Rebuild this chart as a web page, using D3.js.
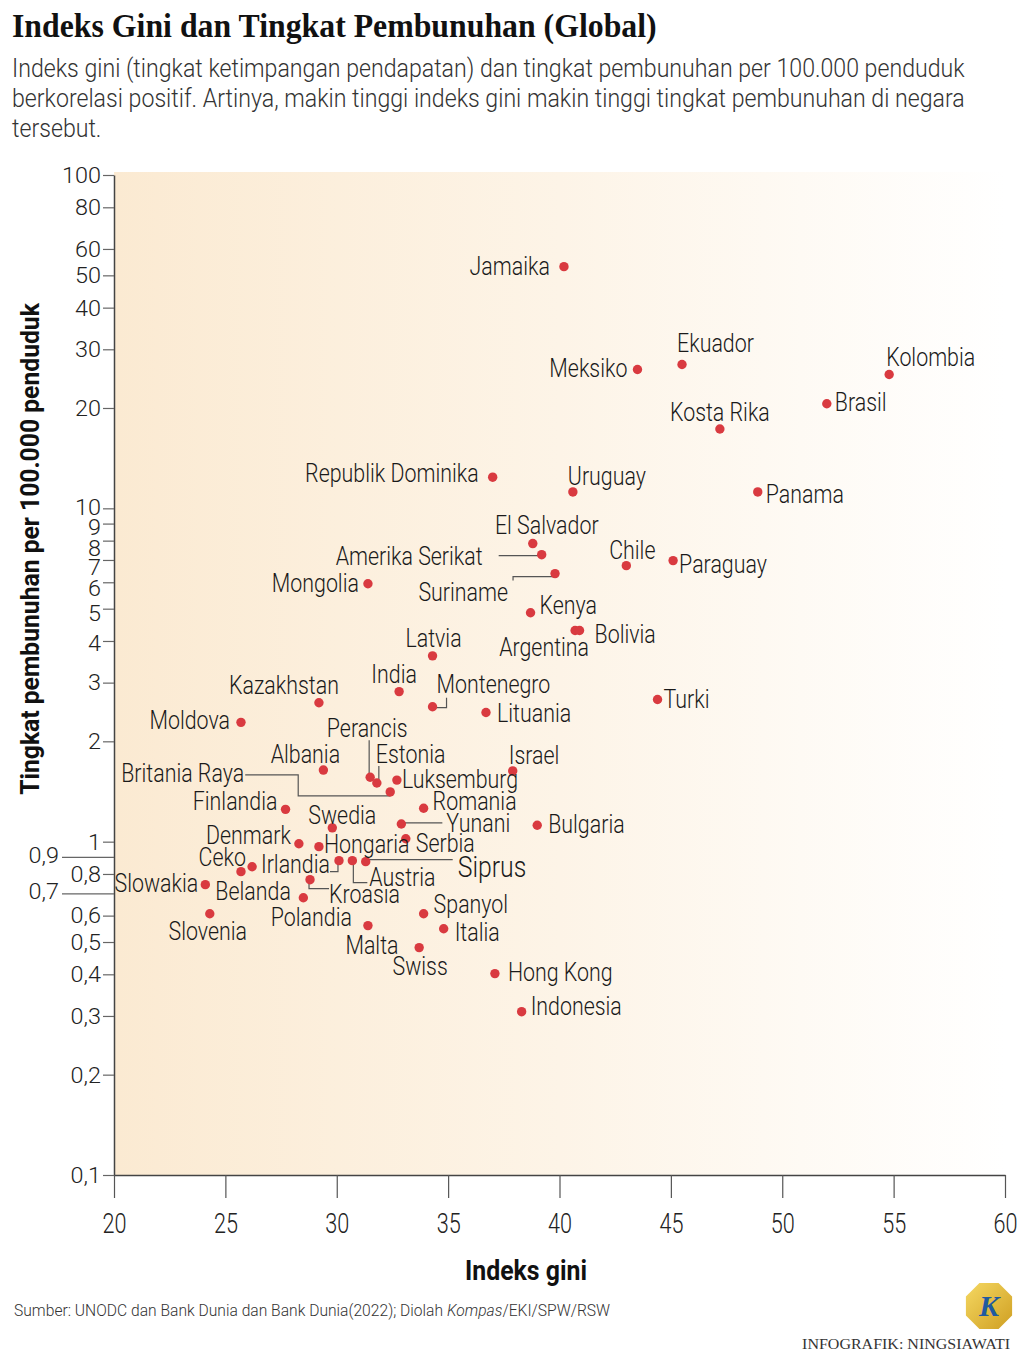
<!DOCTYPE html>
<html><head><meta charset="utf-8">
<script src="https://cdn.jsdelivr.net/npm/d3@7"></script>
<style>body{margin:0;background:#fff;} svg{display:block;}</style>
</head><body><svg id="c" width="1024" height="1356"></svg>
<script>
// ---------------- DATA ----------------
const countries = ["Jamaika","Ekuador","Meksiko","Kolombia","Brasil","Kosta Rika","Republik Dominika","Uruguay","Panama","El Salvador","Amerika Serikat","Suriname","Chile","Paraguay","Mongolia","Kenya","Argentina","Bolivia","Latvia","Turki","India","Kazakhstan","Montenegro","Lituania","Moldova","Albania","Perancis","Estonia","Luksemburg","Israel","Britania Raya","Finlandia","Romania","Swedia","Yunani","Bulgaria","Serbia","Denmark","Hongaria","Irlandia","Austria","Siprus","Ceko","Belanda","Slowakia","Kroasia","Polandia","Slovenia","Spanyol","Malta","Italia","Swiss","Hong Kong","Indonesia"];
const gini = [40.2,45.5,43.5,54.8,52.0,47.2,37.0,40.6,48.9,38.8,39.2,39.8,43.0,45.1,31.4,38.7,40.7,40.9,34.3,44.4,32.8,29.2,34.3,36.7,25.7,29.4,31.5,31.8,32.7,37.9,32.4,27.7,33.9,29.8,32.9,39.0,33.1,28.3,29.2,30.1,30.7,31.3,25.7,26.2,24.1,28.8,28.5,24.3,33.9,31.4,34.8,33.7,37.1,38.3];
const homicide = [53.1,27.0,26.1,25.2,20.6,17.3,12.4,11.2,11.2,7.84,7.26,6.37,6.73,6.97,5.94,4.86,4.30,4.30,3.61,2.67,2.82,2.61,2.54,2.44,2.28,1.64,1.56,1.50,1.53,1.63,1.41,1.25,1.26,1.10,1.13,1.12,1.02,0.986,0.966,0.877,0.877,0.871,0.813,0.841,0.743,0.769,0.679,0.608,0.608,0.560,0.548,0.481,0.402,0.309];
const yTickValues = [100,80,60,50,40,30,20,10,9,8,7,6,5,4,3,2,1,0.8,0.6,0.5,0.4,0.3,0.2,0.1];
const yTickLabels = ["100","80","60","50","40","30","20","10","9","8","7","6","5","4","3","2","1","0,8","0,6","0,5","0,4","0,3","0,2","0,1"];
const yOuterTickValues = [0.9,0.7];
const yOuterTickLabels = ["0,9","0,7"];
const xTickValues = [20,25,30,35,40,45,50,55,60];

const titleText = "Indeks Gini dan Tingkat Pembunuhan (Global)";
const subtitleLines = ["Indeks gini (tingkat ketimpangan pendapatan) dan tingkat pembunuhan per 100.000 penduduk",
  "berkorelasi positif. Artinya, makin tinggi indeks gini makin tinggi tingkat pembunuhan di negara",
  "tersebut."];
const yTitle = "Tingkat pembunuhan per 100.000 penduduk";
const xTitle = "Indeks gini";

// ---------------- LAYOUT (label offsets, not data) ----------------
// vertical nudge for crowded y tick labels (px)
const yTickNudge = {"10":-1,"9":4,"8":7,"7":7,"6":6,"5":4,"4":2};
const labelPos = {
 "Jamaika":[-14,0,"end"],"Ekuador":[-5,-21,"start"],"Meksiko":[-10,-1,"end"],"Kolombia":[-3,-17,"start"],
 "Brasil":[8,-1,"start"],"Kosta Rika":[0,-17,"middle"],"Republik Dominika":[-14,-4,"end"],"Uruguay":[-5,-16,"start"],
 "Panama":[8,2,"start"],"El Salvador":[14,-18,"middle"],"Amerika Serikat":[-59,2,"end"],"Suriname":[-47,19,"end"],
 "Chile":[6,-15,"middle"],"Paraguay":[6,4,"start"],"Mongolia":[-9,-1,"end"],"Kenya":[9,-8,"start"],
 "Argentina":[-31,17,"middle"],"Bolivia":[15,4,"start"],"Latvia":[1,-18,"middle"],"Turki":[6,0,"start"],
 "India":[-5,-17,"middle"],"Kazakhstan":[-35,-18,"middle"],"Montenegro":[4,-22,"start"],"Lituania":[11,1,"start"],
 "Moldova":[-11,-2,"end"],"Albania":[-18,-16,"middle"],"Perancis":[-3,-49,"middle"],"Estonia":[-1,-29,"start"],
 "Luksemburg":[5,-1,"start"],"Israel":[-4,-16,"start"],"Britania Raya":[-146,-19,"end"],"Finlandia":[-8,-8,"end"],
 "Romania":[9,-7,"start"],"Swedia":[10,-13,"middle"],"Yunani":[45,-1,"start"],"Bulgaria":[11,-1,"start"],
 "Serbia":[10,4,"start"],"Denmark":[-8,-8,"end"],"Hongaria":[5,-2,"start"],"Irlandia":[-9,4,"end"],
 "Austria":[17,17,"start"],"Siprus":[92,5,"start"],"Ceko":[5,-14,"end"],"Belanda":[1,24,"middle"],
 "Slowakia":[-7,-1,"end"],"Kroasia":[19,15,"start"],"Polandia":[8,20,"middle"],"Slovenia":[-2,18,"middle"],
 "Spanyol":[10,-9,"start"],"Malta":[4,20,"middle"],"Italia":[11,3,"start"],"Swiss":[1,19,"middle"],
 "Hong Kong":[13,-1,"start"],"Indonesia":[9,-5,"start"]
};
const leaders = {
 "Amerika Serikat":[[-43,1],[0,1]],
 "Suriname":[[-2,3],[-42,3],[-42,7]],
 "Montenegro":[[0,1],[14,1],[14,-9]],
 "Perancis":[[-1,-37],[-1,0]],
 "Estonia":[[2,-17],[2,-3]],
 "Britania Raya":[[-145,-17],[-92,-17],[-92,4],[0,4]],
 "Yunani":[[0,-1],[41,-1]],
 "Irlandia":[[-1,0],[-1,11],[-9,11]],
 "Austria":[[1,0],[1,22],[15,22]],
 "Siprus":[[0,-2],[87,-2]],
 "Kroasia":[[-1,0],[-1,9],[19,9]]
};

// ---------------- SETUP ----------------
const svg = d3.select("#c");
const SANS = "Roboto, 'Noto Sans', 'Liberation Sans', sans-serif";
const SERIF = "'Liberation Serif', 'DejaVu Serif', serif";
const x = d3.scaleLinear().domain([20,60]).range([114,1005]);
const y = d3.scaleLog().domain([0.1,100]).range([1175,175]);

function measure(str, size, family, weight, style){
  const t = svg.append("text").attr("font-family",family).attr("font-size",size)
    .attr("font-weight",weight||400).attr("font-style",style||"normal").text(str);
  const w = t.node().getComputedTextLength(); t.remove(); return w;
}
function ctext(parent, o){
  return parent.append("text")
    .attr("transform", `translate(${o.x},${o.y})${o.rot?` rotate(${o.rot})`:""} scale(${o.sx||1},1)`)
    .attr("text-anchor", o.anchor||"start")
    .attr("dy", o.dy===undefined ? "0.35em" : o.dy)
    .attr("font-family", o.family||SANS)
    .attr("font-size", o.size)
    .attr("font-weight", o.weight||400)
    .attr("fill", o.fill||"#222")
    .text(o.text);
}

// background gradient
const defs = svg.append("defs");
const grad = defs.append("linearGradient").attr("id","bg").attr("x1","0").attr("x2","1").attr("y1","0").attr("y2","0");
grad.append("stop").attr("offset","0").attr("stop-color","#fbead2");
grad.append("stop").attr("offset","0.5").attr("stop-color","#fdf4e7");
grad.append("stop").attr("offset","1").attr("stop-color","#ffffff");
svg.append("rect").attr("x",x(20)).attr("y",y(100)-3).attr("width",x(60)-x(20)).attr("height",y(0.1)-y(100)+3).attr("fill","url(#bg)");

// ---------------- TITLE ----------------
const titleSize = 34;
const titleSx = 645 / measure(titleText, titleSize, SERIF, 700);
ctext(svg,{x:12,y:37,dy:0,text:titleText,size:titleSize,weight:700,family:SERIF,sx:titleSx,fill:"#111"});
const subSize = 25;
const subSx = 953 / measure(subtitleLines[0], subSize, SANS, 300);
subtitleLines.forEach((l,i)=>{
  ctext(svg,{x:12,y:77+i*30,dy:0,text:l,size:subSize,weight:300,sx:subSx,fill:"#333"});
});

// ---------------- AXES ----------------
const tickSize = 23;
const tickSx = 39 / measure("100", tickSize, SANS, 300);
const yAxis = d3.axisLeft(y).tickValues(yTickValues).tickFormat((d,i)=>yTickLabels[i]).tickSize(11).tickSizeOuter(0);
const gy = svg.append("g").attr("transform",`translate(${x(20)},0)`).call(yAxis);
gy.select(".domain").attr("stroke","#444").attr("stroke-width",1.5);
gy.selectAll(".tick line").attr("stroke","#666").attr("stroke-width",1.2);
gy.selectAll(".tick text").attr("font-family",SANS).attr("font-size",tickSize).attr("font-weight",300).attr("fill","#222")
  .attr("x",-13/tickSx).attr("y",function(){ return yTickNudge[this.textContent]||0; })
  .attr("transform",`scale(${tickSx},1)`);

const yAxisOuter = d3.axisLeft(y).tickValues(yOuterTickValues).tickFormat((d,i)=>yOuterTickLabels[i]).tickSize(52).tickSizeOuter(0);
const gyo = svg.append("g").attr("transform",`translate(${x(20)},0)`).call(yAxisOuter);
gyo.select(".domain").remove();
gyo.selectAll(".tick line").attr("stroke","#666").attr("stroke-width",1.2);
gyo.selectAll(".tick text").attr("font-family",SANS).attr("font-size",tickSize).attr("font-weight",300).attr("fill","#222")
  .attr("x",-55/tickSx).attr("y",-2).attr("transform",`scale(${tickSx},1)`);

const xAxis = d3.axisBottom(x).tickValues(xTickValues).tickFormat(d=>d).tickSize(23).tickSizeOuter(0);
const gx = svg.append("g").attr("transform",`translate(0,${y(0.1)})`).call(xAxis);
gx.select(".domain").attr("stroke","#444").attr("stroke-width",1.5);
gx.selectAll(".tick line").attr("stroke","#555").attr("stroke-width",1.2);
const xTickSize = 27;
const xTickSx = 24 / measure("20", xTickSize, SANS, 300);
gx.selectAll(".tick text").attr("font-family",SANS).attr("font-size",xTickSize).attr("font-weight",300).attr("fill","#222")
  .attr("x",0).attr("y",49).attr("dy","0.35em").attr("transform",`scale(${xTickSx},1)`);

// axis titles
const yTitleSize = 25;
const yTitleSx = 492 / measure(yTitle, yTitleSize, SANS, 700);
ctext(svg,{x:30,y:549,rot:-90,anchor:"middle",text:yTitle,size:yTitleSize,weight:700,sx:yTitleSx,fill:"#111"});
const xTitleSize = 27;
const xTitleSx = 122 / measure(xTitle, xTitleSize, SANS, 700);
ctext(svg,{x:526,y:1271,anchor:"middle",text:xTitle,size:xTitleSize,weight:700,sx:xTitleSx,fill:"#111"});

// ---------------- MARKS ----------------
const data = countries.map((c,i)=>({name:c, g:gini[i], h:homicide[i]}));
const lineGen = d3.line();
const gl = svg.append("g");
data.filter(d=>leaders[d.name]).forEach(d=>{
  const px = x(d.g), py = y(d.h);
  gl.append("path").attr("d", lineGen(leaders[d.name].map(p=>[px+p[0], py+p[1]])))
    .attr("fill","none").attr("stroke","#555").attr("stroke-width",1.2);
});
svg.append("g").selectAll("circle").data(data).join("circle")
  .attr("cx",d=>x(d.g)).attr("cy",d=>y(d.h)).attr("r",4.7).attr("fill","#d93a40");

const labSize = 25;
const labSx = 110 / measure("Kazakhstan", labSize, SANS, 300);
const glab = svg.append("g");
data.forEach(d=>{
  const p = labelPos[d.name];
  const big = d.name==="Siprus";
  ctext(glab,{x:x(d.g)+p[0], y:y(d.h)+p[1], anchor:p[2], text:d.name, size: big?29:labSize, weight:300, sx:labSx, fill:"#1a1a1a"});
});

// ---------------- FOOTER ----------------
const srcSize = 17;
const srcW = measure("Sumber: UNODC dan Bank Dunia dan Bank Dunia(2022); Diolah Kompas/EKI/SPW/RSW", srcSize, SANS, 300);
const srcSx = 598 / srcW;
const src = svg.append("text").attr("transform",`translate(14,1316) scale(${srcSx},1)`)
  .attr("font-family",SANS).attr("font-size",srcSize).attr("font-weight",300).attr("fill","#333");
src.append("tspan").text("Sumber: UNODC dan Bank Dunia dan Bank Dunia(2022); Diolah ");
src.append("tspan").attr("font-style","italic").text("Kompas");
src.append("tspan").text("/EKI/SPW/RSW");

const infoText = "INFOGRAFIK: NINGSIAWATI";
const infoSx = 208 / measure(infoText, 15, SERIF, 400);
ctext(svg,{x:1010,y:1349,dy:0,anchor:"end",text:infoText,size:15,family:SERIF,sx:infoSx,fill:"#333"});

// logo
const lg = defs.append("linearGradient").attr("id","gold").attr("x1","0").attr("y1","0").attr("x2","1").attr("y2","1");
lg.append("stop").attr("offset","0").attr("stop-color","#f5d862");
lg.append("stop").attr("offset","1").attr("stop-color","#cf9f22");
const cx0 = 989, cy0 = 1306, R = 25;
const oct = d3.range(8).map(k=>{const a = Math.PI/8 + k*Math.PI/4; return [cx0+R*Math.cos(a), cy0+R*Math.sin(a)];});
svg.append("polygon").attr("points", oct.map(p=>p.join(",")).join(" ")).attr("fill","url(#gold)");
svg.append("text").attr("x",cx0).attr("y",cy0+10).attr("text-anchor","middle").attr("font-family",SERIF)
  .attr("font-style","italic").attr("font-weight",700).attr("font-size",30).attr("fill","#1f5aa0").text("K");
</script>
</body></html>
